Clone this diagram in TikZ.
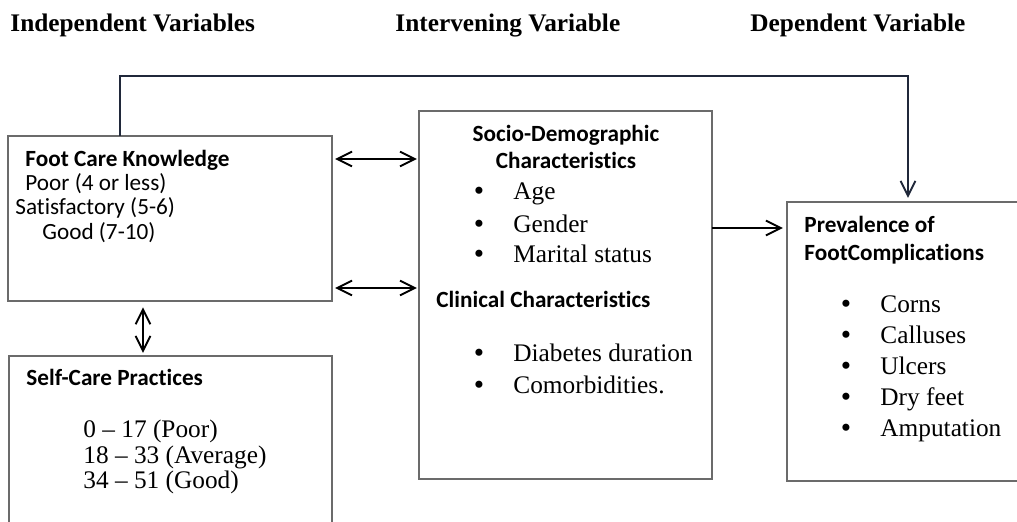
\documentclass[tikz,border=0pt]{standalone}
\usepackage{fontspec}
\setmainfont{Liberation Serif}
\newfontfamily\calibri[Ligatures=NoCommon]{Carlito}
\usetikzlibrary{arrows.meta}
\definecolor{linkblue}{RGB}{32,40,58}
\def\pxu{0.474pt}
\tikzset{
  box/.style={draw=black!58, line width=0.55pt, anchor=north west, inner sep=0pt, outer sep=0pt},
  link/.style={line width=0.9pt},
  title/.style={anchor=base west, inner sep=0pt, font=\fontsize{12}{14}\selectfont\bfseries},
  boxhead/.style={anchor=base west, inner sep=0pt, font=\calibri\fontsize{11}{13}\selectfont\bfseries},
  boxtext/.style={anchor=base west, inner sep=0pt, font=\calibri\fontsize{11}{13}\selectfont},
  item/.style={anchor=base west, inner sep=0pt, font=\fontsize{12}{14}\selectfont},
  dot/.style={anchor=base, inner sep=0pt, yshift=-0.4pt, text height=6pt, text depth=0pt, font=\fontsize{14}{14}\selectfont}
}

\begin{document}
\begin{tikzpicture}[x=\pxu, y=-\pxu, >={Straight Barb[length=7pt,width=7pt]}]
			%%%%% START %%%%%
			\clip (0, 0) rectangle (1017, 522);
			
			\node[title] (tindep) at (10, 32) {Independent Variables};
			\node[title] (tinterv) at (395, 32) {Intervening Variable};
			\node[title] (tdep) at (750, 32) {Dependent Variable};
			
			\node[box, minimum width=324*\pxu, minimum height=165*\pxu] (know) at (8, 136) {};
			\node[box, minimum width=323*\pxu, minimum height=190*\pxu] (selfcare) at (9, 356) {};
			\node[box, minimum width=293*\pxu, minimum height=368*\pxu] (socio) at (419, 111) {};
			\node[box, minimum width=250*\pxu, minimum height=279*\pxu] (prev) at (787, 202) {};
			
			\node[boxhead] (kn0) at (25, 167) {Foot Care Knowledge};
			\node[boxtext] (kn1) at (25, 191) {Poor (4 or less)};
			\node[boxtext] (kn2) at (15, 215) {Satisfactory (5-6)};
			\node[boxtext] (kn3) at (42, 240) {Good (7-10)};
			
			\node[boxhead] (sc0) at (26, 386) {Self-Care Practices};
			\node[item] (sc1) at (83, 438) {0 -- 17 (Poor)};
			\node[item] (sc2) at (83, 464) {18 -- 33 (Average)};
			\node[item] (sc3) at (83, 489) {34 -- 51 (Good)};
			
			\node[boxhead, anchor=base] (so0) at (566, 142) {Socio-Demographic};
			\node[boxhead, anchor=base] (so1) at (566, 169) {Characteristics};
			\node[dot] (sd1) at (479, 200) {•};
			\node[item] (so2) at (513, 200) {Age};
			\node[dot] (sd2) at (479, 233) {•};
			\node[item] (so3) at (513, 233) {Gender};
			\node[dot] (sd3) at (479, 263) {•};
			\node[item] (so4) at (513, 263) {Marital status};
			\node[boxhead] (cl0) at (436, 308) {Clinical Characteristics};
			\node[dot] (cd1) at (479, 362) {•};
			\node[item] (cl1) at (513, 362) {Diabetes duration};
			\node[dot] (cd2) at (479, 394) {•};
			\node[item] (cl2) at (513, 394) {Comorbidities.};
			
			\node[boxhead] (pr0) at (804, 233) {Prevalence of};
			\node[boxhead] (pr1) at (804, 261) {FootComplications};
			\node[dot] (pd1) at (846, 313) {•};
			\node[item] (pr2) at (880, 313) {Corns};
			\node[dot] (pd2) at (846, 344) {•};
			\node[item] (pr3) at (880, 344) {Calluses};
			\node[dot] (pd3) at (846, 375) {•};
			\node[item] (pr4) at (880, 375) {Ulcers};
			\node[dot] (pd4) at (846, 406) {•};
			\node[item] (pr5) at (880, 406) {Dry feet};
			\node[dot] (pd5) at (846, 437) {•};
			\node[item] (pr6) at (880, 437) {Amputation};
			
			\coordinate (fbl) at (120, 76);
			\coordinate (fbr) at (908, 76);
			\coordinate (ra) at (0, 159);
			\coordinate (rb) at (0, 288);
			\coordinate (rc) at (0, 228);
			\coordinate (rd) at (143, 0);
			
			\draw[link, color=linkblue, ->, shorten >=2pt] (know.north -| fbl) -- (fbl) -- (fbr) -- (prev.north -| fbr);
			\draw[link, <->, shorten <=1.5pt, shorten >=1pt] (know.east |- ra) -- (socio.west |- ra);
			\draw[link, <->, shorten <=1.5pt, shorten >=1pt] (know.east |- rb) -- (socio.west |- rb);
			\draw[link, ->, shorten >=2pt] (socio.east |- rc) -- (prev.west |- rc);
			\draw[link, <->, shorten <=3pt, shorten >=1.5pt] (know.south -| rd) -- (selfcare.north -| rd);
			
			%%%%% END %%%%%
		\end{tikzpicture}
\end{document}
